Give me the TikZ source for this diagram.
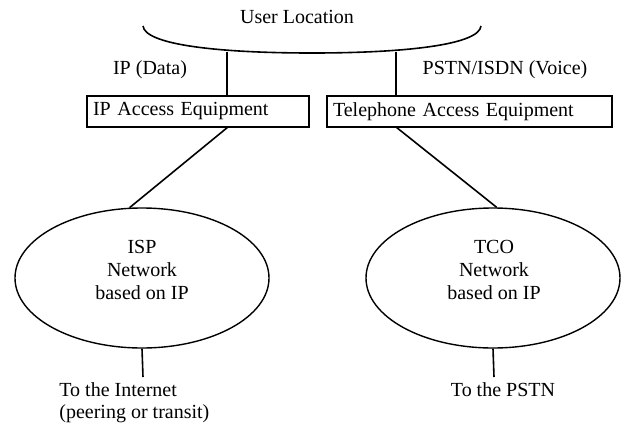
\documentclass[tikz,border=0pt]{standalone}
\usepackage{fontspec}
\setmainfont{Liberation Serif}
\usetikzlibrary{shapes.geometric}
\begin{document}
\begin{tikzpicture}[x=0.5pt,y=-0.5pt,
  every node/.style={font=\fontsize{10}{11.3}\selectfont},
  conn/.style={draw=black,line width=0.8pt},
  accbox/.style={draw=black,line width=0.6pt,rectangle,minimum height=15.5pt,inner xsep=3pt,inner ysep=0pt,align=left},
  netell/.style={draw=black,line width=0.7pt,ellipse,minimum width=127pt,minimum height=70pt,inner sep=0pt},
  lbl/.style={inner sep=0pt,align=center}]
\useasboundingbox (0,0) rectangle (621,429);
% user location
\node[lbl] (ul) at (297,17) {User Location};
\draw[conn] (143,26) .. controls (145,45) and (220,53) .. (312,53) .. controls (404,53) and (479,45) .. (481,26);
\coordinate (u1) at (227,52);
\coordinate (u2) at (396,52);
% boxes
\node[accbox,text width=105pt] (ipbox) at (198,111.5) {IP Access Equipment};
\node[accbox,text width=136.5pt] (telbox) at (469.5,111.5) {Telephone Access Equipment};
\node[lbl] (ipdata) at (150,70) {IP (Data)};
\node[lbl] (pstn) at (505,70) {PSTN/ISDN (Voice)};
\draw[conn] (u1) -- (u1 |- ipbox.north);
\draw[conn] (u2) -- (u2 |- telbox.north);
% networks
\node[netell] (isp) at (142,278) {};
\node[netell] (tco) at (493,278) {};
\node[lbl] (ispt) at (142,270) {ISP\\Network\\based on IP};
\node[lbl] (tcot) at (494,270) {TCO\\Network\\based on IP};
\coordinate (b1) at (228,127);
\coordinate (b2) at (396,127);
\draw[conn] (b1) -- (isp.100);
\draw[conn] (b2) -- (tco.87);
% bottom
\node[lbl,anchor=north west,align=left] (inet) at (59,382) {To the Internet\\(peering or transit)};
\node[lbl,anchor=north] (pstnout) at (503,382) {To the PSTN};
\coordinate (e1) at (143,377);
\coordinate (e2) at (494,377);
\draw[conn] (isp.south) -- (e1);
\draw[conn] (tco.south) -- (e2);
\end{tikzpicture}
\end{document}
